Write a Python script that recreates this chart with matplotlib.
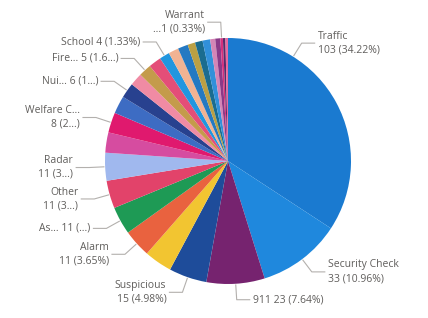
import matplotlib
matplotlib.use("Agg")
import matplotlib.pyplot as plt
import numpy as np

# slices in Power BI order (descending count), unlabeled slices have ""
values = [103, 33, 23, 15, 11, 11, 11, 11, 11, 8, 8, 7, 6, 5, 5, 5,
          4, 4, 4, 3, 3, 3, 2, 2, 1, 1, 1]
labels = ["Traffic\n103 (34.22%)", "Security Check\n33 (10.96%)", "911 23 (7.64%)",
          "Suspicious\n15 (4.98%)", "", "Alarm\n11 (3.65%)", "As\u2026 11 (\u2026)",
          "Other\n11 (3\u2026)", "Radar\n11 (3\u2026)", "", "Welfare C\u2026\n8 (2\u2026)", "",
          "Nui\u2026 6 (1\u2026)", "", "Fire\u2026 5 (1.6\u2026)", "", "School 4 (1.33%)", "",
          "", "", "", "", "", "", "Warrant\n\u20261 (0.33%)", "", ""]
colors = ["#1A7AD0", "#1F88DD", "#76236F", "#1E4C9A", "#F2C531", "#E9623F", "#1E9A55",
          "#E2436A", "#A0B8EE", "#D64CA0", "#E0196E", "#3D6CC3", "#28418F", "#F08BA4",
          "#C49B4B", "#E44E78", "#2196DF", "#F1B393", "#2479C2", "#BBA044", "#1B6C8F",
          "#3190DA", "#D585B6", "#8B3A88", "#D6307C", "#5A2A6A", "#E86AA0"]

# Power BI pulls the big slice's label up instead of using its mid angle
anchor_override = {0: 58}

W, H = 428, 318
cx, cy, r = 228, H - 161, 123

fig = plt.figure(figsize=(W / 100, H / 100), dpi=100)
ax = fig.add_axes([0, 0, 1, 1])

wedges, _ = ax.pie(values, colors=colors, startangle=90, counterclock=False,
                   center=(cx, cy), radius=r, wedgeprops=dict(linewidth=0),
                   frame=True)
ax.set_xlim(0, W)
ax.set_ylim(0, H)
ax.set_aspect("equal")
ax.axis("off")

for i, (w, lab) in enumerate(zip(wedges, labels)):
    if not lab:
        continue
    ang = anchor_override.get(i, (w.theta1 + w.theta2) / 2)
    a = np.deg2rad(ang)
    ux, uy = np.cos(a), np.sin(a)
    sign = 1 if ux >= 0 else -1
    x0, y0 = cx + r * 1.01 * ux, cy + r * 1.01 * uy
    x1, y1 = cx + r * 1.13 * ux, cy + r * 1.13 * uy
    x2 = x1 + sign * 13
    ax.plot([x0, x1, x2], [y0, y1, y1], color="#B3B0AD", lw=0.8)
    ha = "left" if sign > 0 else "right"
    ax.text(x2 + sign * 3, y1, lab, ha=ha, va="center", ma=ha,
            fontsize=7.5, color="#605E5C", family="Open Sans", linespacing=1.35)

fig.savefig("out.png", dpi=100)
